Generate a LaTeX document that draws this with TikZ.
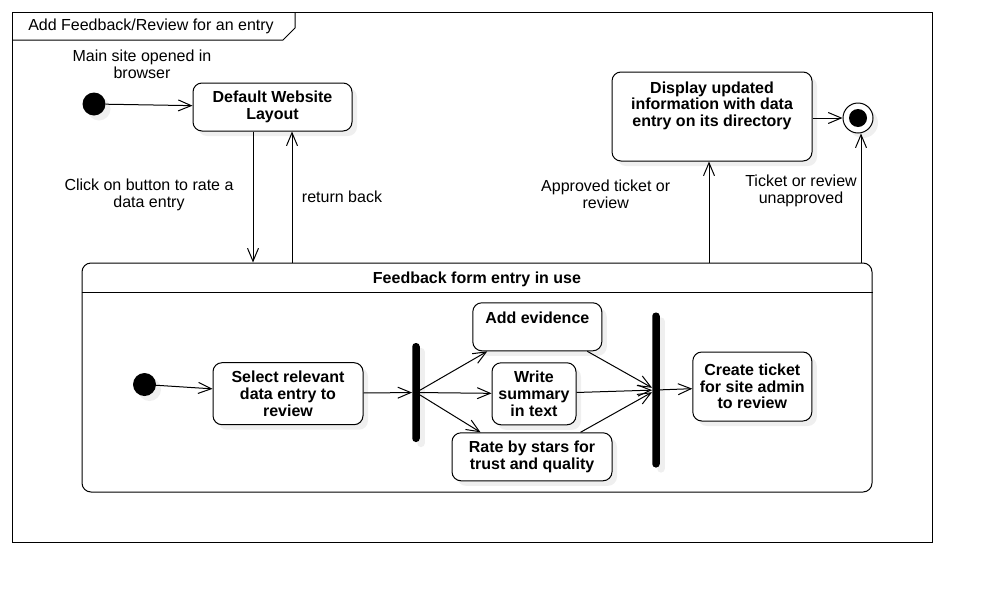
\documentclass[tikz,border=0pt]{standalone}
\usepackage{fontspec}
\setmainfont{Liberation Sans}
\usepackage{tikz}
\usetikzlibrary{arrows.meta,shadows,positioning}

\tikzset{
  soft/.style={drop shadow={shadow xshift=5pt, shadow yshift=-5pt, opacity=0.12}},
  state/.style={draw, line width=1pt, rounded corners=9pt, fill=white, soft, align=center, inner sep=2pt, font=\fontsize{16pt}{16.7pt}\selectfont\bfseries},
  toptext/.style={anchor=north, inner sep=0pt, align=center, font=\fontsize{16pt}{16.7pt}\selectfont\bfseries},
  initial/.style={circle, fill=black, soft, minimum size=23pt, inner sep=0pt},
  final/.style={circle, draw, line width=1pt, fill=white, soft, minimum size=30pt, inner sep=0pt, path picture={\fill[black] (path picture bounding box.center) circle (9pt);}},
  bar/.style={fill=black, soft, rounded corners=3.5pt, inner sep=0pt, minimum width=7.5pt},
  note/.style={align=center, font=\fontsize{16pt}{16.7pt}\selectfont},
  flow/.style={line width=1pt, -{Straight Barb[length=13pt,width=11pt]}}
}

\begin{document}
\begin{tikzpicture}[x=1pt, y=-1pt]
		\useasboundingbox (0,0) rectangle (982,592);
		\fill[white] (0,0) rectangle (982,592);

		\draw[line width=1pt] (12,12) rectangle (932,542);
		\draw[line width=1pt] (12,40) -- (283,40) -- (295,28) -- (295,12);
		\node[note] (title) at (151,26) {Add Feedback/Review for an entry};

		\node[initial] (start) at (94,104) {};
		\node[state, minimum width=159pt, minimum height=48pt] (layout) at (272.5,107) {Default Website\\Layout};
		\node[state, minimum width=200pt, minimum height=89pt, label={[toptext, yshift=-10pt]north:Display updated\\information with data\\entry on its directory}] (display) at (712,116.5) {};
		\node[final] (end) at (858,118) {};

		\node[draw, line width=1pt, rounded corners=9pt, fill=white, minimum width=790pt, minimum height=229pt] (form) at (477,377.5) {};
		\node[font=\fontsize{16pt}{16.7pt}\selectfont\bfseries] (formtitle) at (477,279) {Feedback form entry in use};
		\draw[line width=1pt] ([yshift=-30pt]form.north west) -- ([yshift=-30pt]form.north east);

		\node[initial] (istart) at (144.5,384.5) {};
		\node[state, minimum width=150pt, minimum height=62pt] (select) at (288,393.7) {Select relevant\\data entry to\\review};
		\node[bar, minimum height=99pt] (fork) at (416,392.5) {};
		\node[state, minimum width=129pt, minimum height=48pt, label={[toptext, yshift=-9pt]north:Add evidence}] (evidence) at (537.3,326.8) {};
		\node[state, minimum width=84pt, minimum height=62pt] (summary) at (534,393.8) {Write\\summary\\in text};
		\node[state, minimum width=160pt, minimum height=48pt] (stars) at (532,456.8) {Rate by stars for\\trust and quality};
		\node[bar, minimum height=155pt] (join) at (656,390) {};
		\node[state, minimum width=119pt, minimum height=69pt] (ticket) at (752.3,386.5) {Create ticket\\for site admin\\to review};

		\node[note] (lblopened) at (142,64) {Main site opened in\\browser};
		\node[note] (lblclick) at (149,195) {Click on button to rate a\\data entry};
		\node[note] (lblreturn) at (342,197) {return back};
		\node[note] (lblapproved) at (605.7,194) {Approved ticket or\\review};
		\node[note] (lblunapproved) at (801,191) {Ticket or review\\unapproved};

		\draw[flow] (start) -- (layout);
		\draw[flow] ([xshift=-19.5pt]layout.south) -- ([xshift=-19.5pt]layout.south |- form.north);
		\draw[flow] ([xshift=19.5pt]layout.south |- form.north) -- ([xshift=19.5pt]layout.south);
		\draw[flow] ([xshift=-3pt]display.south |- form.north) -- ([xshift=-3pt]display.south);
		\draw[flow] ([xshift=3pt]end.south |- form.north) -- ([xshift=3pt]end.south);
		\draw[flow] (display.east |- end) -- (end);

		\draw[flow] (istart) -- (select);
		\draw[flow] (select) -- (fork);
		\draw[flow] (fork) -- ([xshift=15pt]evidence.south west);
		\draw[flow] (fork) -- (summary);
		\draw[flow] (fork) -- ([xshift=29pt]stars.north west);
		\draw[flow] ([xshift=-15pt]evidence.south east) -- (join);
		\draw[flow] (summary) -- (join);
		\draw[flow] ([xshift=-32pt]stars.north east) -- (join);
		\draw[flow] (join) -- (ticket);
	\end{tikzpicture}
\end{document}
